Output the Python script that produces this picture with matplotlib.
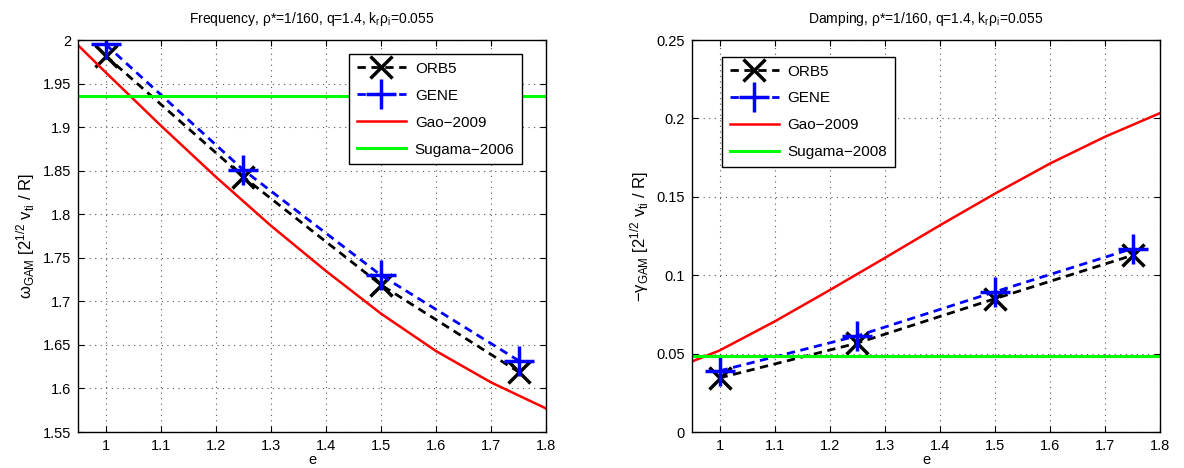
import matplotlib
matplotlib.use('Agg')
from matplotlib import pyplot as plt
import numpy as np

plt.rcParams['font.family'] = ['Liberation Sans', 'DejaVu Sans']
plt.rcParams['mathtext.default'] = 'regular'
plt.rcParams['font.size'] = 10

# elongation scan
e_sim = [1.0, 1.25, 1.5, 1.75]

# GAM frequency
orb5_freq = [1.982, 1.843, 1.719, 1.619]
gene_freq = [1.995, 1.851, 1.730, 1.632]
e_theory = [0.95, 1.0, 1.1, 1.2, 1.3, 1.4, 1.5, 1.6, 1.7, 1.8]
gao_freq = [1.994, 1.963, 1.902, 1.843, 1.787, 1.735, 1.686, 1.643, 1.607, 1.577]
sugama_freq = 1.936

# GAM damping
orb5_damp = [0.0345, 0.0567, 0.085, 0.1127]
gene_damp = [0.039, 0.0613, 0.0894, 0.117]
gao_damp = [0.045, 0.052, 0.0705, 0.0905, 0.111, 0.1318, 0.152, 0.1712, 0.1883, 0.2034]
sugama_damp = 0.0482

xticks = [1, 1.1, 1.2, 1.3, 1.4, 1.5, 1.6, 1.7, 1.8]


def style_axes(ax):
    ax.set_xlim(0.95, 1.8)
    ax.set_xticks(xticks)
    ax.set_xticklabels(['1', '1.1', '1.2', '1.3', '1.4', '1.5', '1.6', '1.7', '1.8'])
    ax.grid(True, linestyle=(0, (1, 4)), color='#555555', linewidth=0.8)
    ax.tick_params(direction='in', top=True, right=True, length=4, labelsize=10.5, pad=5)
    for s in ax.spines.values():
        s.set_linewidth(1.0)
    ax.set_xlabel('e', labelpad=0, fontsize=10.5)


def draw(ax, orb5, gene, gao, sugama, sugama_label):
    ax.plot(e_sim, orb5, color='k', linestyle='--', dashes=(3, 2), linewidth=2,
            marker='x', markersize=16, markeredgewidth=2.5, label='ORB5')
    ax.plot(e_sim, gene, color='b', linestyle='--', dashes=(3, 2), linewidth=2,
            marker='+', markersize=22, markeredgewidth=2.5, label='GENE')
    ax.plot(e_theory, gao, color='r', linewidth=1.8, label='Gao\u22122009')
    ax.axhline(sugama, color='#00ff00', linewidth=2.2, label=sugama_label)


def legend(ax, loc, anchor):
    leg = ax.legend(loc=loc, bbox_to_anchor=anchor, borderaxespad=0, fontsize=11,
                    handlelength=3.2, labelspacing=0.85, fancybox=False, framealpha=1,
                    edgecolor='k', borderpad=0.5, handletextpad=0.6)
    leg.get_frame().set_linewidth(1.0)


fig = plt.figure(figsize=(11.84, 4.68), dpi=100)
ax1 = fig.add_axes([0.0659, 0.0769, 0.3953, 0.8376])
ax2 = fig.add_axes([0.5845, 0.0769, 0.3953, 0.8376])

draw(ax1, orb5_freq, gene_freq, gao_freq, sugama_freq, 'Sugama\u22122006')
style_axes(ax1)
ax1.set_ylim(1.55, 2.0)
ax1.set_yticks([1.55, 1.6, 1.65, 1.7, 1.75, 1.8, 1.85, 1.9, 1.95, 2.0])
ax1.set_yticklabels(['1.55', '1.6', '1.65', '1.7', '1.75', '1.8', '1.85', '1.9', '1.95', '2'])
ax1.set_ylabel(r'$\omega_{GAM}$ [2$^{1/2}$ v$_{ti}$ / R]', fontsize=12)
ax1.set_title(r'Frequency, $\rho$*=1/160, q=1.4, k$_r\rho_i$=0.055', fontsize=10, pad=12)
legend(ax1, 'upper right', (0.949, 0.964))

draw(ax2, orb5_damp, gene_damp, gao_damp, sugama_damp, 'Sugama\u22122008')
style_axes(ax2)
ax2.set_ylim(0, 0.25)
ax2.set_yticks([0, 0.05, 0.1, 0.15, 0.2, 0.25])
ax2.set_yticklabels(['0', '0.05', '0.1', '0.15', '0.2', '0.25'])
ax2.set_ylabel(r'$-\gamma_{GAM}$ [2$^{1/2}$ v$_{ti}$ / R]', fontsize=12)
ax2.set_title(r'Damping, $\rho$*=1/160, q=1.4, k$_r\rho_i$=0.055', fontsize=10, pad=12)
legend(ax2, 'upper left', (0.064, 0.957))

fig.savefig('out.png', dpi=100)
